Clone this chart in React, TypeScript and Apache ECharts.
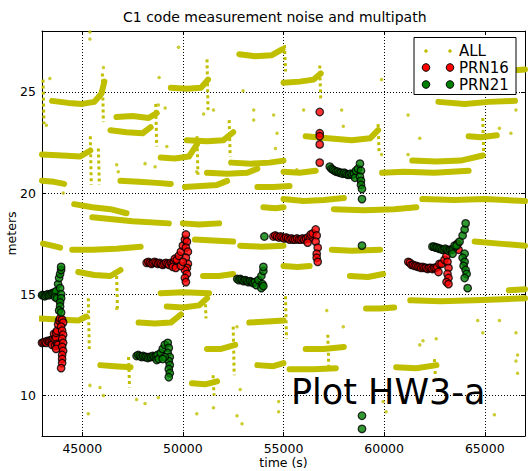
import React, { useEffect, useRef } from "react";
import * as echarts from "echarts";

// ---------- data ----------
const xTicks = [45000, 50000, 55000, 60000, 65000];
const yTicks = [10, 15, 20, 25];

// ALL: dense horizontal streaks (each is a list of [time, meters])
const allBandsUpper: number[][][] = [
  [[43500, 24.55], [44300, 24.45], [45000, 24.4], [45600, 24.5], [45950, 24.9], [46100, 25.5]],
  [[49400, 25.2], [50200, 25.15], [50900, 25.2], [51250, 25.6]],
  [[52800, 26.85], [53600, 26.75], [54400, 26.8], [54950, 27.1]],
  [[55000, 25.45], [55800, 25.5], [56500, 25.6], [56850, 25.9]],
  [[46700, 23.75], [47500, 23.8], [48300, 23.7], [48700, 23.95]],
  [[46400, 23.1], [47200, 23.0], [48000, 22.95], [48400, 23.25]],
  [[50200, 22.6], [51200, 22.55], [52000, 22.6], [52500, 23.0]],
  [[56100, 22.8], [57200, 22.7], [58400, 22.6], [59300, 22.7], [59700, 23.1]],
  [[62700, 24.5], [64000, 24.4], [65200, 24.5], [66500, 24.55]],
  [[66300, 26.05], [67000, 26.1]],
  [[64200, 22.8], [64800, 22.75], [65600, 22.85]],
];
const allBandsMiddle: number[][][] = [
  [[43000, 21.9], [44000, 21.85], [44900, 21.8], [45400, 22.1]],
  [[43000, 20.6], [43600, 20.55], [44100, 20.45]],
  [[48900, 21.75], [49600, 21.7], [50300, 21.8], [50700, 22.4]],
  [[46900, 20.6], [47800, 20.55], [48700, 20.5], [49400, 20.45]],
  [[50100, 20.3], [50900, 20.35], [51700, 20.4], [52200, 20.6]],
  [[51200, 21.0], [52200, 20.95], [53200, 21.0], [53700, 21.2]],
  [[52400, 21.5], [53400, 21.45], [54300, 21.5], [55000, 21.6]],
  [[53700, 20.3], [54500, 20.3], [55300, 20.35]],
  [[55000, 21.05], [55800, 21.0], [56600, 21.1]],
  [[59900, 21.0], [61000, 21.05], [62500, 21.0], [64200, 21.1]],
  [[61400, 21.6], [62600, 21.55], [63800, 21.6], [64900, 21.85]],
  [[55000, 19.7], [56000, 19.6], [57000, 19.65], [58000, 19.75]],
  [[57500, 19.2], [59000, 19.15], [60500, 19.2], [61600, 19.3]],
  [[61900, 19.7], [63500, 19.65], [65000, 19.7], [67000, 19.6]],
  [[44600, 19.45], [45500, 19.3], [46400, 19.2], [47200, 19.0]],
  [[45500, 18.8], [46500, 18.7], [47500, 18.6], [49300, 18.5]],
  [[50000, 18.5], [50800, 18.45], [51800, 18.5]],
  [[54000, 19.3], [54600, 19.25], [55000, 19.3]],
];
const allBandsLower: number[][][] = [
  [[43050, 17.5], [43500, 17.4], [43900, 17.3]],
  [[44500, 17.2], [45500, 17.2], [46700, 17.25], [47900, 17.35]],
  [[44800, 16.1], [45600, 15.95], [46400, 15.9], [46900, 16.2]],
  [[42900, 13.8], [43800, 13.75], [44800, 13.7], [45200, 13.9]],
  [[47800, 13.6], [48600, 13.55], [49400, 13.6], [49900, 14.0]],
  [[49200, 14.4], [50000, 14.35], [50800, 14.45], [51200, 14.8]],
  [[45900, 11.5], [46600, 11.45], [47400, 11.4]],
  [[51200, 12.3], [51900, 12.3], [52600, 12.5]],
  [[50450, 10.6], [51100, 10.55], [51700, 10.7]],
  [[51000, 15.9], [51800, 15.9], [52500, 16.0]],
  [[48900, 15.05], [50000, 15.1], [51300, 15.05]],
  [[52850, 17.4], [53900, 17.35], [55000, 17.4]],
  [[53300, 13.6], [54200, 13.65], [55000, 13.7]],
  [[53700, 11.5], [54500, 11.45], [55000, 11.6]],
  [[57400, 17.2], [58400, 17.15], [59800, 17.2]],
  [[58300, 15.9], [59200, 15.85], [59950, 16.0]],
  [[55000, 16.4], [55700, 16.35], [56300, 16.4]],
  [[61300, 14.7], [62800, 14.65], [64500, 14.7], [67000, 14.8]],
  [[59100, 14.3], [59800, 14.3], [60500, 14.35]],
  [[56100, 12.3], [57000, 12.3], [58000, 12.4]],
  [[55300, 11.3], [56500, 11.3], [57600, 11.35]],
  [[60600, 11.4], [61600, 11.35], [62600, 11.5]],
  [[66200, 15.2], [67000, 15.25]],
  [[64500, 17.6], [65700, 17.5], [67000, 17.4]],
  [[50600, 17.7], [51500, 17.65], [52500, 17.6]],
];
// ALL: vertical noisy tails at the ends of the passes
const allTails: number[][][] = [
  [[43050, 25.6], [43100, 23.4]],
  [[46000, 25.9], [46050, 23.5]],
  [[51200, 26.6], [51250, 24.1]],
  [[55050, 27.3], [55100, 26.0]],
  [[56800, 26.3], [56850, 24.6]],
  [[48650, 24.4], [48700, 22.3]],
  [[52300, 23.6], [52350, 21.8]],
  [[45400, 22.8], [45450, 20.4]],
  [[45800, 22.2], [45850, 20.4]],
  [[59700, 23.4], [59750, 22.0]],
  [[64900, 23.7], [64950, 21.8]],
  [[46700, 16.2], [46750, 14.3]],
  [[45300, 14.8], [45350, 12.3]],
  [[51100, 15.1], [51150, 13.8]],
  [[47300, 11.9], [47350, 10.4]],
  [[52500, 13.4], [52550, 11.0]],
  [[51500, 11.0], [51550, 10.0]],
  [[57200, 13.0], [57250, 11.4]],
  [[62500, 11.8], [62550, 10.9]],
  [[50700, 22.8], [50750, 20.9]],
  [[55100, 14.9], [55150, 12.8]],
];
// ALL: isolated points
const allDots: number[][] = [
  [45380, 27.95], [45380, 27.6], [49780, 27.2], [46050, 26.2], [48820, 25.7], [52990, 25.05],
  [43390, 25.65], [43220, 23.35], [48780, 24.35], [49120, 24.2], [51030, 23.9], [51520, 24.1],
  [53520, 24.1], [53520, 23.6], [54510, 23.85], [46710, 21.4], [46790, 21.05], [48120, 21.45],
  [48620, 21.3], [49200, 22.3], [50690, 21.05], [44050, 20.0], [54680, 22.95], [54600, 22.2],
  [56000, 24.1], [57890, 24.1], [59870, 25.6], [61190, 23.85], [61770, 22.7], [57970, 23.3],
  [65730, 23.2], [66300, 22.95], [66550, 24.1], [55660, 21.15], [59870, 21.9], [61190, 21.9],
  [45880, 10.4], [46050, 10.0], [47700, 9.8], [48780, 9.9], [52690, 9.0], [52940, 8.6],
  [51520, 9.4], [50690, 9.1], [45300, 9.1], [45380, 10.5], [48120, 9.6], [54760, 9.7],
  [54760, 9.2], [52690, 13.4], [52850, 10.3], [46710, 14.3], [60100, 9.2], [65480, 9.05],
  [61930, 12.7], [62590, 12.8], [66550, 13.1], [65730, 13.7], [66630, 12.0], [66630, 11.1],
  [57150, 14.2], [57970, 13.4], [59950, 9.7], [61770, 12.5], [64650, 13.7], [64900, 13.1],
  [66550, 11.7],
];

// PRN16 (red): dense stems, then the scattered ends of each pass
const prn16: number[][] = [
  // pass 1
  [43000, 12.6], [43070, 12.62], [43140, 12.65], [43210, 12.6], [43280, 12.7], [43350, 12.68],
  [43420, 12.72], [43490, 12.75], [43560, 12.8], [43500, 12.5], [43630, 12.78], [43600, 13.05],
  [43650, 12.45], [43700, 12.85], [43700, 13.1], [43750, 12.55], [43800, 12.5], [43700, 12.3],
  [43750, 13.2], [43800, 13.5], [43850, 13.7], [43900, 13.8], [44000, 13.75], [44050, 13.6],
  [43950, 13.4], [44000, 13.2], [44050, 13.0], [44000, 12.8], [44050, 12.6], [44000, 12.4],
  [44050, 12.2], [44000, 12.0], [44000, 11.8], [44000, 11.6], [43950, 11.35],
  // pass 2
  [48200, 16.55], [48280, 16.6], [48360, 16.55], [48440, 16.5], [48520, 16.55], [48600, 16.6],
  [48680, 16.55], [48760, 16.5], [48840, 16.55], [48920, 16.5], [49000, 16.45], [49080, 16.5],
  [49160, 16.55], [49240, 16.5], [49320, 16.45], [49400, 16.55], [49480, 16.5], [49560, 16.6],
  [49500, 16.35], [49600, 16.75], [49650, 16.3], [49700, 16.7], [49800, 16.9], [49900, 17.1],
  [50000, 17.4], [50100, 17.7], [50150, 17.95], [50200, 17.6], [50150, 17.3], [50250, 17.1],
  [50150, 16.8], [50250, 16.5], [50200, 16.3], [50100, 16.2], [50200, 16.0], [50100, 15.8],
  [50150, 15.6], [49900, 16.4], [50000, 16.6],
  // pass 3
  [54500, 17.85], [54590, 17.9], [54680, 17.85], [54770, 17.8], [54860, 17.85], [54950, 17.8],
  [55040, 17.75], [55130, 17.8], [55220, 17.75], [55310, 17.7], [55400, 17.75], [55490, 17.7],
  [55580, 17.7], [55670, 17.75], [55760, 17.7], [55850, 17.7], [55940, 17.75], [56030, 17.7],
  [56120, 17.75], [56210, 17.8], [56300, 17.75], [56200, 17.55], [56350, 17.95], [56450, 18.0],
  [56600, 18.2], [56650, 17.9], [56600, 17.6], [56700, 17.3], [56650, 17.0], [56650, 16.8],
  [56700, 16.6],
  [56800, 24.0], [56800, 22.95], [56800, 22.8], [56800, 22.4], [56800, 21.5],
  // pass 4
  [61200, 16.6], [61280, 16.55], [61360, 16.45], [61440, 16.45], [61520, 16.4], [61600, 16.4],
  [61680, 16.35], [61760, 16.35], [61840, 16.3], [61920, 16.35], [62000, 16.3], [62080, 16.3],
  [62160, 16.25], [62240, 16.3], [62320, 16.3], [62400, 16.25], [62480, 16.3], [62560, 16.3],
  [62640, 16.35], [62700, 16.1], [62750, 16.5], [62850, 16.5], [63000, 16.7], [63100, 16.9],
  [63150, 16.6], [63200, 16.3], [63150, 16.0], [63200, 15.8], [63100, 15.6], [63200, 15.5],
  [63650, 17.5], [63700, 17.2],
];

// PRN21 (green)
const prn21: number[][] = [
  // pass 1
  [43000, 14.95], [43070, 14.95], [43140, 14.9], [43210, 14.95], [43280, 15.0], [43350, 14.95],
  [43420, 15.0], [43490, 15.05], [43560, 15.05], [43630, 15.1], [43700, 15.15], [43650, 14.85],
  [43750, 14.8], [43800, 15.5], [43850, 15.8], [43900, 16.0], [43950, 16.2], [43950, 16.35],
  [43900, 15.3], [43950, 15.0], [43950, 14.8], [43900, 14.6], [43900, 14.4], [43850, 14.2],
  [43950, 14.1],
  // pass 2
  [47700, 11.95], [47780, 12.0], [47860, 11.95], [47940, 11.9], [48020, 11.95], [48100, 11.9],
  [48180, 11.9], [48260, 11.85], [48340, 11.9], [48420, 11.9], [48500, 11.95], [48580, 11.9],
  [48660, 11.95], [48740, 12.0], [48700, 11.75], [48800, 11.8], [48900, 12.1], [49000, 12.3],
  [49100, 12.5], [49250, 12.6], [49300, 12.35], [49250, 12.1], [49350, 11.9], [49300, 11.7],
  [49350, 11.5], [49300, 11.3], [49350, 11.1], [49300, 10.9], [49100, 11.9], [49000, 11.8],
  // pass 3
  [52700, 15.75], [52780, 15.7], [52860, 15.75], [52940, 15.7], [53020, 15.65], [53100, 15.7],
  [53180, 15.65], [53260, 15.6], [53340, 15.65], [53420, 15.6], [53500, 15.55], [53580, 15.6],
  [53650, 15.45], [53750, 15.7], [53900, 15.9], [54000, 16.15], [54000, 16.35], [53950, 15.5],
  [53900, 15.3], [54000, 15.4], [54050, 17.85],
  // pass 4
  [57300, 21.3], [57380, 21.2], [57460, 21.15], [57540, 21.1], [57620, 21.05], [57700, 21.05],
  [57780, 21.0], [57860, 21.0], [57940, 20.95], [58020, 21.0], [58100, 20.95], [58180, 20.9],
  [58260, 20.9], [58340, 20.95], [58420, 20.9], [58500, 20.95], [58550, 20.75], [58600, 21.1],
  [58700, 21.2], [58800, 21.45], [58850, 21.1], [58800, 20.8], [58850, 20.6], [58850, 20.4],
  [58900, 20.2], [58900, 19.7],
  [58900, 17.4], [58900, 9.0], [58900, 8.35],
  // pass 5
  [62400, 17.35], [62480, 17.35], [62560, 17.3], [62640, 17.3], [62720, 17.25], [62800, 17.25],
  [62880, 17.2], [62960, 17.2], [63040, 17.25], [63120, 17.2], [63200, 17.15], [63280, 17.2],
  [63360, 17.2], [63440, 17.25], [63400, 17.0], [63500, 17.4], [63600, 17.4], [63750, 17.6],
  [63900, 17.9], [64000, 18.2], [64050, 18.5], [64000, 17.0], [63900, 16.8], [64000, 16.6],
  [63950, 16.4], [64050, 16.2], [64100, 16.0], [64000, 15.8], [64150, 15.3],
];

const legendNames = ["ALL", "PRN16", "PRN21"];
const titleText = "C1 code measurement noise and multipath";
const noteText = "Plot HW3-a";

// ---------- styles ----------
const YEL = "#bfbf00";
const RED = "#ff0000";
const GRN = "#008000";
const FONT = "DejaVu Sans";

export default function App() {
  const ref = useRef<HTMLDivElement>(null);

  useEffect(() => {
    document.body.style.margin = "0";
    if (!ref.current) return;
    const chart = echarts.init(ref.current, undefined, { renderer: "svg" });

    const bandSeries = [...allBandsUpper, ...allBandsMiddle, ...allBandsLower].map((b) => ({
      type: "line",
      name: "ALL",
      data: b,
      showSymbol: false,
      symbol: "none",
      silent: true,
      z: 2,
      lineStyle: { color: YEL, width: 6, cap: "round", join: "round" },
    }));
    const tailSeries = allTails.map((t) => ({
      type: "line",
      name: "ALL",
      data: t,
      showSymbol: false,
      symbol: "none",
      silent: true,
      z: 2,
      lineStyle: { color: YEL, width: 3, type: [3, 3] },
    }));

    const axisText = { color: "#000", fontSize: 12.5, fontFamily: FONT };

    const option: any = {
      animation: false,
      backgroundColor: "#fff",
      title: {
        text: titleText,
        left: 118,
        top: 5,
        textStyle: { fontSize: 14, fontWeight: "normal", fontFamily: FONT, color: "#000" },
      },
      grid: { left: 42, right: 4, top: 31, bottom: 35, containLabel: false, outerBoundsMode: "none" },
      xAxis: [
        {
          type: "value",
          min: 43000,
          max: 67000,
          splitNumber: 5,
          position: "bottom",
          axisLine: { show: true, onZero: false, lineStyle: { color: "#000", width: 1 } },
          axisTick: { show: true, inside: true, length: 4, lineStyle: { color: "#000" }, customValues: xTicks },
          axisLabel: { ...axisText, margin: 6, customValues: xTicks, formatter: (v: number) => String(v) },
          splitLine: { show: true, lineStyle: { color: "#000", type: [1, 2], width: 1 } },
          name: "time (s)",
          nameLocation: "middle",
          nameGap: 20,
          nameMoveOverlap: false,
          nameTextStyle: axisText,
        },
        {
          type: "value",
          min: 43000,
          max: 67000,
          splitNumber: 5,
          position: "top",
          axisLine: { show: true, onZero: false, lineStyle: { color: "#000", width: 1 } },
          axisTick: { show: true, inside: true, length: 4, lineStyle: { color: "#000" }, customValues: xTicks },
          axisLabel: { show: false },
          splitLine: { show: false },
        },
      ],
      yAxis: [
        {
          type: "value",
          min: 8,
          max: 28,
          splitNumber: 4,
          position: "left",
          axisLine: { show: true, onZero: false, lineStyle: { color: "#000", width: 1 } },
          axisTick: { show: true, inside: true, length: 4, lineStyle: { color: "#000" }, customValues: yTicks },
          axisLabel: { ...axisText, margin: 6, customValues: yTicks },
          splitLine: { show: true, lineStyle: { color: "#000", type: [1, 2], width: 1 } },
          name: "meters",
          nameLocation: "middle",
          nameGap: 24,
          nameRotate: 90,
          nameMoveOverlap: false,
          nameTextStyle: axisText,
        },
        {
          type: "value",
          min: 8,
          max: 28,
          splitNumber: 4,
          position: "right",
          axisLine: { show: true, onZero: false, lineStyle: { color: "#000", width: 1 } },
          axisTick: { show: true, inside: true, length: 4, lineStyle: { color: "#000" }, customValues: yTicks },
          axisLabel: { show: false },
          splitLine: { show: false },
        },
      ],
      series: [
        ...bandSeries,
        ...tailSeries,
        {
          type: "scatter",
          name: "ALL",
          data: allDots,
          symbolSize: 3.5,
          silent: true,
          z: 2,
          itemStyle: { color: YEL },
        },
        {
          type: "scatter",
          name: "PRN16",
          data: prn16,
          symbolSize: 7.5,
          silent: true,
          z: 3,
          itemStyle: { color: RED, borderColor: "#000", borderWidth: 1.3 },
        },
        {
          type: "scatter",
          name: "PRN21",
          data: prn21,
          symbolSize: 7.5,
          silent: true,
          z: 4,
          itemStyle: { color: GRN, borderColor: "#000", borderWidth: 1.3 },
        },
      ],
      graphic: [
        {
          type: "rect",
          z: 100,
          shape: { x: 414, y: 37.5, width: 102, height: 57 },
          style: { fill: "#fff", stroke: "#000", lineWidth: 1 },
        },
        { type: "circle", z: 101, shape: { cx: 426, cy: 51, r: 1.8 }, style: { fill: YEL } },
        { type: "circle", z: 101, shape: { cx: 450, cy: 51, r: 1.8 }, style: { fill: YEL } },
        { type: "circle", z: 101, shape: { cx: 426, cy: 67.5, r: 3.8 }, style: { fill: RED, stroke: "#000", lineWidth: 1 } },
        { type: "circle", z: 101, shape: { cx: 450, cy: 67.5, r: 3.8 }, style: { fill: RED, stroke: "#000", lineWidth: 1 } },
        { type: "circle", z: 101, shape: { cx: 426, cy: 84.5, r: 3.8 }, style: { fill: GRN, stroke: "#000", lineWidth: 1 } },
        { type: "circle", z: 101, shape: { cx: 450, cy: 84.5, r: 3.8 }, style: { fill: GRN, stroke: "#000", lineWidth: 1 } },
        ...legendNames.map((n, i) => ({
          type: "text",
          z: 101,
          x: 459,
          y: [51, 67.5, 84.5][i],
          style: { text: n, fill: "#000", font: `15px "${FONT}"`, verticalAlign: "middle", align: "left" },
        })),
        {
          type: "text",
          z: 101,
          x: 291,
          y: 392,
          style: { text: noteText, fill: "#000", font: `35px "${FONT}"`, verticalAlign: "middle", align: "left" },
        },
      ],
    };

    chart.setOption(option);
    return () => chart.dispose();
  }, []);

  return (
    <div
      ref={ref}
      style={{ width: 529, height: 471, position: "absolute", left: 0, top: 0, background: "#fff" }}
    />
  );
}
